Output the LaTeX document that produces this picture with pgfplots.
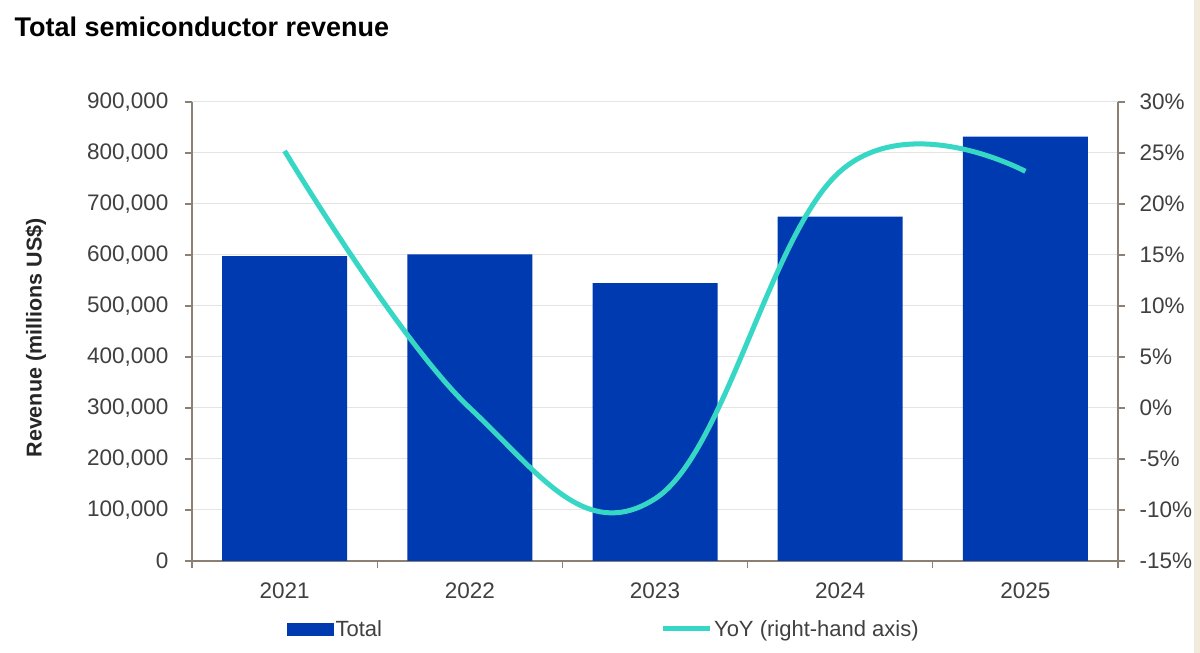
\documentclass[border=0pt]{standalone}
\usepackage{fontspec}
\setmainfont{Liberation Sans}
\usepackage{pgfplots}
\pgfplotsset{compat=1.18}

\definecolor{barblue}{RGB}{0,58,176}
\definecolor{yoyteal}{RGB}{54,215,197}
\definecolor{axisbrown}{RGB}{140,128,117}
\definecolor{gridgray}{RGB}{228,228,228}
\definecolor{ticktext}{RGB}{64,64,64}
\definecolor{edgebeige}{RGB}{240,235,220}

\pgfplotsset{
  base/.style={
    at={(192pt,92pt)}, anchor=south west,
    scale only axis, width=926pt, height=459pt,
    xmin=-0.5, xmax=4.5,
    /pgf/number format/assume math mode=true,
    axis line style={axisbrown, line width=1.6pt, -},
    tick style={axisbrown, line width=1.2pt},
    major tick length=7pt, tick align=outside,
    ticklabel style={font=\fontsize{22.5}{27}\selectfont, text=ticktext},
  }
}

\begin{document}
\begin{tikzpicture}
\path[use as bounding box] (0pt,0pt) rectangle (1200pt,653pt);
\fill[white] (0pt,0pt) rectangle (1200pt,653pt);
\fill[edgebeige] (1194pt,0pt) rectangle (1200pt,653pt);

% revenue bars, left axis
\begin{axis}[base,
  ymin=0, ymax=900000, ytick distance=100000,
  scaled y ticks=false,
  yticklabel style={/pgf/number format/.cd, fixed, 1000 sep={,}, /tikz/.cd, xshift=-13pt},
  axis x line*=bottom, axis y line*=left,
  xtick={-0.5,0.5,1.5,2.5,3.5,4.5},
  xticklabels={2021,2022,2023,2024,2025,{}},
  xticklabel style={xshift=92.6pt, yshift=-11pt},
  ymajorgrids, grid style={gridgray, line width=1pt},
]
\addplot[ybar, bar width=125pt, bar shift=0pt, fill=barblue, draw=none]
  coordinates {(0,598000)(1,601000)(2,545000)(3,675000)(4,832000)};
\end{axis}

% year-on-year growth, right axis
\begin{axis}[base,
  ymin=-15, ymax=30, ytick distance=5,
  axis y line*=right, axis x line=none,
  yticklabel={\pgfmathprintnumber{\tick}\%},
  yticklabel style={xshift=11pt},
  legend columns=2,
  legend style={draw=none, fill=none,
    at={(axis description cs:0.1026,-0.148)}, anchor=west,
    font=\fontsize{22}{26}\selectfont, text=ticktext,
    inner sep=0pt,
    /tikz/every even column/.append style={column sep=276pt}},
]
\addlegendimage{legend image code/.code={\fill[barblue] (0pt,-6pt) rectangle (46pt,6pt);}}
\addlegendentry{Total}
\addplot[yoyteal, line width=5pt, smooth, tension=0.68,
  legend image code/.code={\draw[yoyteal, line width=5pt] (0pt,0pt) -- (47pt,0pt);}]
  coordinates {(0,25.2)(1,0.0)(2,-8.9)(3,23.2)(4,23.2)};
\addlegendentry{YoY (right-hand axis)}
\end{axis}

\node[anchor=base west, font=\bfseries\fontsize{27}{32}\selectfont] at (11pt,616pt) {Total semiconductor revenue};
\node[rotate=90, font=\bfseries\fontsize{21.5}{26}\selectfont, text=black!85] at (36pt,315pt) {Revenue (millions US\$)};
\end{tikzpicture}
\end{document}
